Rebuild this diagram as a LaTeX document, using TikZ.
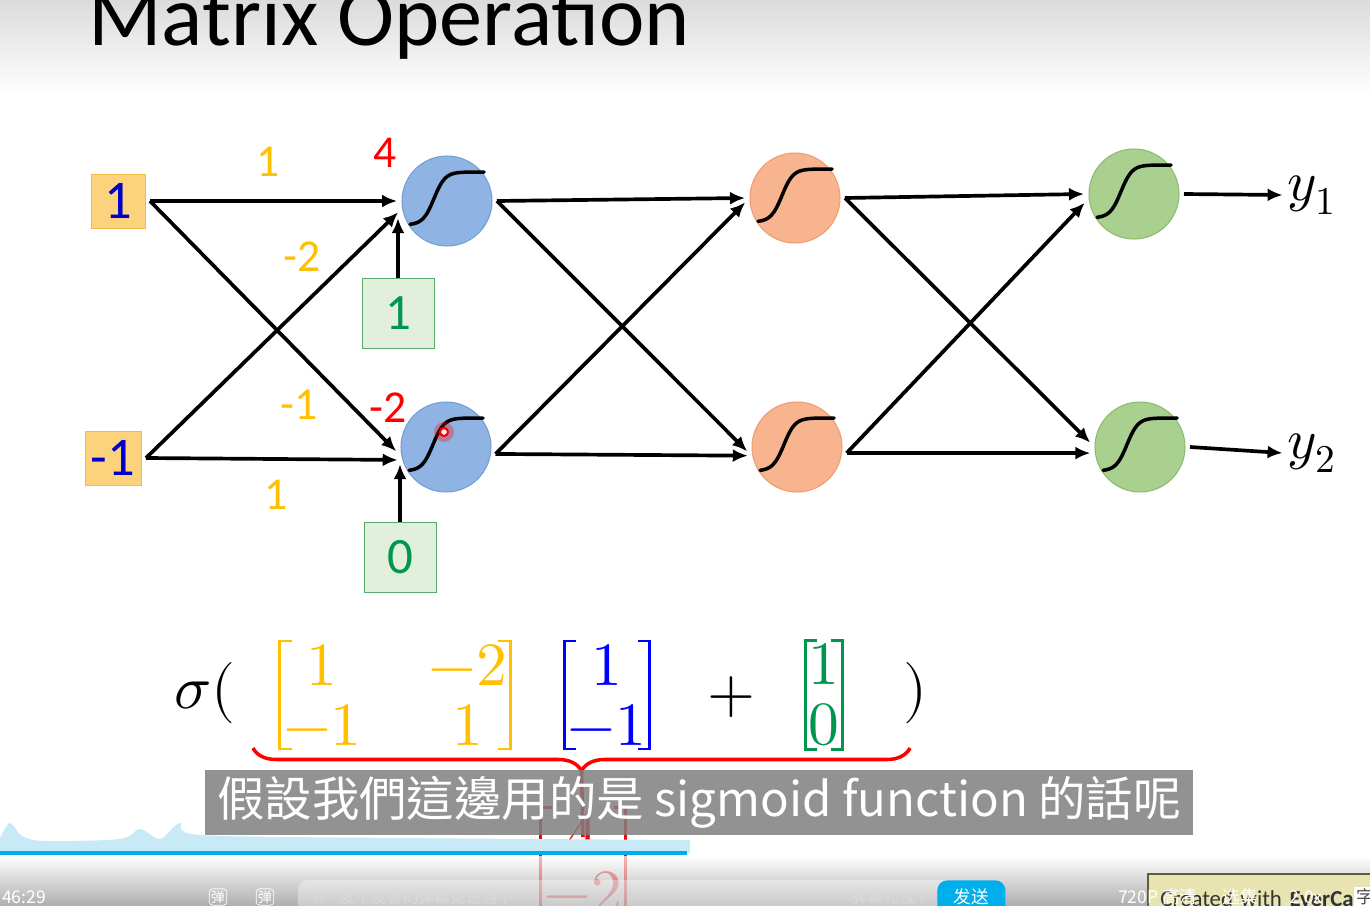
\documentclass[tikz,border=0pt]{standalone}
\usepackage{amsmath}
\usepackage{fontspec}
\usepackage{unicode-math}
\setmainfont{Carlito}
\newfontfamily\cjk{Noto Sans CJK TC}
\newfontfamily\cjksc{Noto Sans CJK SC}
\usepackage{xcolor}
\usepackage{tikz}
\usetikzlibrary{matrix,decorations.pathreplacing,arrows.meta}

\definecolor{wgold}{RGB}{255,192,0}
\definecolor{inblue}{RGB}{0,0,204}
\definecolor{bgreen}{RGB}{0,150,80}
\definecolor{nblue}{RGB}{143,180,227}
\definecolor{nbluedk}{RGB}{115,158,212}
\definecolor{norange}{RGB}{248,180,142}
\definecolor{norangedk}{RGB}{240,155,112}
\definecolor{ngreen}{RGB}{169,208,142}
\definecolor{ngreendk}{RGB}{140,185,112}
\definecolor{infill}{RGB}{252,210,125}
\definecolor{indraw}{RGB}{245,185,70}
\definecolor{bfill}{RGB}{226,239,218}
\definecolor{bdraw}{RGB}{90,170,110}
\definecolor{bili}{RGB}{0,174,236}
\definecolor{wave}{RGB}{200,234,247}
\definecolor{evfill}{RGB}{231,228,178}
\definecolor{evdraw}{RGB}{95,95,55}

\newcommand\eqfont{\fontsize{35}{40}\selectfont}
% sigmoid inside a neuron
\newcommand\sigcurve[1]{\draw[sig, shift={(#1.center)}] plot[domain=-37:37, samples=60, smooth] (\x, {-29+53/(1+exp(0.18*(\x+13)))});}
% square brackets round a matrix
\newcommand\mbrack[2]{%
  \draw[bracket,#2] ([shift={(9,-3)}]#1.north west) -| ([shift={(-3,3)}]#1.south west) -- ++(12,0);
  \draw[bracket,#2] ([shift={(-9,-3)}]#1.north east) -| ([shift={(3,3)}]#1.south east) -- ++(-12,0);}

\begin{document}
\begin{tikzpicture}[x=0.02cm, y=-0.02cm,
        inbox/.style={rectangle, draw=indraw, fill=infill, minimum size=1.08cm, text=inblue, font=\fontsize{31}{31}\selectfont, outer sep=0.1cm},
        biasbox/.style={rectangle, draw=bdraw, fill=bfill, minimum width=1.44cm, minimum height=1.4cm, text=bgreen, font=\fontsize{29}{29}\selectfont},
        neuron/.style={circle, minimum size=1.8cm, inner sep=0pt, outer sep=0.1cm, line width=0.6pt},
        wlabel/.style={text=wgold, font=\fontsize{26}{26}\selectfont},
        zlabel/.style={text=red, font=\fontsize{26}{26}\selectfont},
        ylabel/.style={font=\fontsize{32}{32}\selectfont, inner sep=0.1cm},
        arrow/.style={-{Latex[length=0.3cm, width=0.26cm]}, line width=2.1pt},
        sig/.style={line width=2pt, line cap=round},
        bracket/.style={line width=1.5pt},
        mat/.style={matrix of math nodes, inner sep=0pt, column sep=38pt, row sep=11pt, nodes={inner sep=0pt, anchor=base, font=\eqfont}},
        eq/.style={font=\eqfont, inner sep=0pt},
        subbox/.style={fill=black!50, fill opacity=0.85, text opacity=1, text=white, minimum height=1.3cm, inner xsep=0.25cm, font=\cjk\fontsize{27}{30}\selectfont},
        uitext/.style={text=white, font=\cjksc\fontsize{10}{12}\selectfont, inner sep=1pt},
        uihint/.style={text=white!85!black, font=\cjksc\fontsize{9}{11}\selectfont, inner sep=1pt}
    ]
    \clip (0,0) rectangle (1370,906);

    % Background
    \fill[white] (0,0) rectangle (1370,906);
    \shade[top color=black!14, bottom color=white] (0,0) rectangle (1370,95);

    % Title
    \node[anchor=base west, inner sep=0pt, font=\fontsize{49}{50}\selectfont] (title) at (88,45) {Matrix Operation};

    % Inputs and biases
    \node[inbox] (x1) at (118,201) {1};
    \node[inbox] (x2) at (113,458) {-1};
    \node[biasbox] (b1) at (398,313) {1};
    \node[biasbox] (b2) at (400,557) {0};

    % Neurons
    \node[neuron, fill=nblue, draw=nbluedk] (h1) at (447,201) {};
    \node[neuron, fill=nblue, draw=nbluedk] (h2) at (446,447) {};
    \node[neuron, fill=norange, draw=norangedk] (o1) at (795,198) {};
    \node[neuron, fill=norange, draw=norangedk] (o2) at (797,447) {};
    \node[neuron, fill=ngreen, draw=ngreendk] (g1) at (1134,194) {};
    \node[neuron, fill=ngreen, draw=ngreendk] (g2) at (1140,447) {};
    \sigcurve{h1} \sigcurve{h2} \sigcurve{o1} \sigcurve{o2} \sigcurve{g1} \sigcurve{g2}

    % Outputs
    \node[ylabel] (y1) at (1312,195) {$y_1$};
    \node[ylabel] (y2) at (1312,453) {$y_2$};

    % Arrows, first layer
    \draw[arrow] (x1.east) -- (h1.west);
    \draw[arrow] (x1.east) -- (h2.185);
    \draw[arrow] (x2.east) -- (h2.195);
    \draw[arrow] (x2.east) -- (h1.193);
    \draw[arrow] (b1.north) -- (b1.north |- h1.200);
    \draw[arrow] (b2.north) -- (b2.north |- h2.200);

    % Arrows, second layer
    \draw[arrow] (h1.east) -- (o1.west);
    \draw[arrow] (h1.east) -- (o2.185);
    \draw[arrow] (h2.-8) -- (o2.190);
    \draw[arrow] (h2.-8) -- (o1.185);

    % Arrows, third layer
    \draw[arrow] (o1.east) -- (g1.west);
    \draw[arrow] (o1.east) -- (g2.175);
    \draw[arrow] (o2.-7) -- (g2.187);
    \draw[arrow] (o2.-7) -- (g1.190);
    \draw[arrow] (g1.east) -- (y1.west);
    \draw[arrow] (g2.east) -- (y2.west);

    % Weights and sums
    \node[wlabel] (w11) at (268,162) {1};
    \node[zlabel] (z1) at (385,153) {4};
    \node[wlabel] (w12) at (302,257) {-2};
    \node[wlabel] (w21) at (299,405) {-1};
    \node[zlabel] (z2) at (388,408) {-2};
    \node[wlabel] (w22) at (276,495) {1};

    % Pointer
    \fill[red, opacity=0.3] (444,432) circle (10);
    \draw[red, line width=1.2pt, fill=white] (444,432) circle (4);

    % Equation
    \node[eq] (sig) at (205,693) {$\sigma($};
    \matrix (mW) [mat, text=wgold] at (395,695) {1 & -2\\ -1 & 1\\};
    \mbrack{mW}{wgold}
    \matrix (mx) [mat, text=blue] at (607,695) {1\\ -1\\};
    \mbrack{mx}{blue}
    \node[eq] (plus) at (731,697) {$+$};
    \matrix (mb) [mat, text=bgreen] at (824,695) {1\\ 0\\};
    \mbrack{mb}{bgreen}
    \node[eq] (close) at (915,693) {$)$};

    % Result
    \coordinate (bl) at (253,748);
    \coordinate (br) at (910,748);
    \coordinate (btip) at (581.5,771);
    \draw[red, line width=2pt, decorate, decoration={brace, mirror, amplitude=0.46cm}] (bl) -- (br);
    \matrix (res) [mat, text=red] at (583,862) {4\\ -2\\};
    \mbrack{res}{red}
    \draw[red, line width=2pt] (btip) -- ([yshift=-15]res.north);

    % Player overlay
    \fill[wave] plot[smooth] coordinates {(0,838) (10,823) (22,836) (45,841) (120,839) (140,829) (160,839) (180,823) (200,835) (400,838) (690,840)} -- (690,853) -- (0,853) -- cycle;
    \draw[bili, line width=2.3pt] (0,853) -- (687,853);
    \node[subbox] (sub) at (699,802) {假設我們這邊用的是 sigmoid function 的話呢};
    \shade[top color=white, bottom color=black!45, opacity=0.7] (0,856) rectangle (1370,906);
    \fill[white, opacity=0.35, rounded corners=0.2cm] (298,880) rectangle (960,930);
    \node[uitext, anchor=west] (time) at (0,897) {46:29};
    \node[uitext, draw=white, rounded corners=2pt, font=\cjksc\fontsize{8}{9}\selectfont] (dm1) at (218,897) {弹};
    \node[uitext, draw=white, rounded corners=2pt, font=\cjksc\fontsize{8}{9}\selectfont] (dm2) at (265,897) {弹};
    \node[uihint, anchor=west] (hint) at (312,897) {A\quad 发个友善的弹幕见证当下};
    \node[uihint, anchor=west] (rules) at (850,897) {弹幕礼仪 ›};
    \node[uitext, fill=bili, rounded corners=0.2cm, minimum width=1.36cm, minimum height=1cm, anchor=north west] (send) at (937,880) {};
    \node[uitext] (sendtxt) at (971,897) {发送};
    \node[draw=evdraw, fill=evfill, line width=1pt, minimum width=4.8cm, minimum height=1cm, anchor=north west, text=black!80, font=\fontsize{13}{14}\selectfont, inner xsep=0.25cm, text width=4.3cm] (ever) at (1147,873) {Created with \textbf{EverCam}};
    \node[uitext, anchor=west] (res720) at (1116,897) {720P 高清};
    \node[uitext] (episodes) at (1240,897) {选集};
    \node[uitext] (speed) at (1306,897) {2.0x};
    \node[uitext, fill=white, text=black!70] (subs) at (1365,897) {字};
\end{tikzpicture}
\end{document}
